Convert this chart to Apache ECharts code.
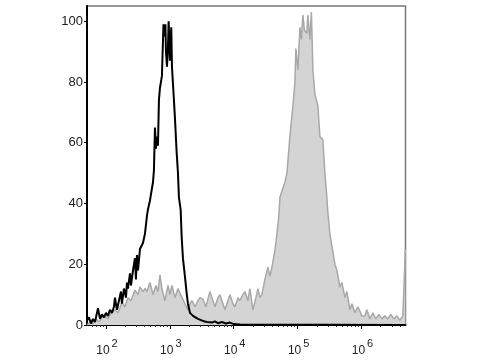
<!DOCTYPE html>
<html>
<head>
<meta charset="utf-8">
<script src="https://cdn.jsdelivr.net/npm/echarts@6/dist/echarts.min.js"></script>
<style>html,body{margin:0;padding:0;background:#fff}#c{width:480px;height:360px}</style>
</head>
<body>
<div id="c"></div>
<script>
// x values are log10 of fluorescence intensity (decades)
const xMajorTicks = [2, 3, 4, 5, 6];
const yTicks = [0, 20, 40, 60, 80, 100];

// Control (black line): [log10 intensity, % of max]
const controlX = [1.703,1.734,1.765,1.797,1.828,1.859,1.875,1.906,1.937,1.969,2.000,2.031,2.063,2.094,2.125,2.141,2.172,2.203,2.235,2.250,2.282,2.313,2.329,2.344,2.376,2.391,2.423,2.454,2.469,2.485,2.501,2.532,2.579,2.610,2.642,2.657,2.689,2.720,2.736,2.751,2.767,2.782,2.798,2.814,2.829,2.845,2.876,2.900,2.915,2.931,2.939,2.955,2.970,2.981,3.002,3.022,3.033,3.053,3.080,3.106,3.127,3.142,3.169,3.185,3.205,3.236,3.263,3.283,3.315,3.362,3.393,3.440,3.471,3.534,3.581,3.659,3.706,3.753,3.815,3.878,3.941,4.003,4.097,6.687];
const controlY = [1.5,2.5,0.5,2,1,4,5.5,2,3.5,2.5,4,3,5,4,6,9,5,8,11,7,12,9,14,12,17,13,18,22,15,23,18,25,27,30,36,38,41,45,47,51,65,58,62,59,74,78,82,99,95,99,90,85,91,100,87,98,85,78,68,57,50,42,38,29,22,16,10.5,7,4,3,2.6,2,1.6,1.2,1,0.8,1.2,0.6,1,0.5,0.8,0.3,0.2,0];

// Stained sample (grey filled)
const sampleX = [1.703,1.750,1.797,1.844,1.890,1.937,1.984,2.031,2.078,2.141,2.188,2.250,2.297,2.344,2.391,2.454,2.501,2.532,2.579,2.610,2.642,2.689,2.736,2.782,2.814,2.845,2.876,2.923,2.970,3.002,3.033,3.080,3.127,3.158,3.189,3.236,3.283,3.315,3.346,3.393,3.440,3.471,3.518,3.565,3.627,3.674,3.706,3.753,3.784,3.831,3.862,3.909,3.940,3.987,4.019,4.066,4.097,4.144,4.175,4.222,4.253,4.300,4.347,4.379,4.410,4.441,4.488,4.535,4.566,4.598,4.645,4.676,4.707,4.723,4.770,4.801,4.833,4.879,4.926,4.958,4.973,5.005,5.036,5.059,5.083,5.106,5.130,5.145,5.161,5.192,5.216,5.239,5.271,5.318,5.349,5.396,5.427,5.458,5.474,5.505,5.537,5.584,5.615,5.662,5.693,5.740,5.771,5.818,5.850,5.897,5.944,5.975,6.006,6.053,6.084,6.131,6.178,6.225,6.272,6.319,6.366,6.413,6.460,6.507,6.554,6.601,6.648,6.687];
const sampleY = [0,1,0.5,2,1,2.5,3,2,4,5,4,7.5,6,9,8,11.5,10,12.5,11,12,11,14,10,13,11,16.5,12,8,13,10,13,9,12,10.5,10,7,5,7,8,6,8,9,8.5,6,11,8,6,9,10,7,5,8,10,7,6,9,8,10,11,8,12,5,9,12,9,10,15,19,16,19,24.6,30,36,42,45,47,50,62,72,80,91,84,98,94,102,97,97,96,102,94,103,84,76,72,62,61,50,42,37,30,26,20,18,12.5,14,9,11,5,7,4,6,6,3,3,5,2,4,2,3.5,2,3,2,3.5,2,3,1.5,3,25];

const minorTicks = [];
for (let n = 1; n <= 6; n++) for (let k = 2; k <= 9; k++) {
  const v = n + Math.log10(k);
  if (v > 1.703 && v < 6.689) minorTicks.push(v);
}

const zip = (xs, ys) => xs.map((x, i) => [x, ys[i]]);
const FONT = 'Liberation Sans, Arial, sans-serif';

const chart = echarts.init(document.getElementById('c'), null, {renderer: 'canvas'});
chart.setOption({
  animation: false,
  backgroundColor: '#fff',
  grid: {left: 87, right: 74.5, top: 6, bottom: 35, show: true, borderColor: '#777', borderWidth: 1.5, backgroundColor: 'transparent'},
  xAxis: [{
    type: 'value', min: 1.703, max: 6.689,
    axisLine: {show: true, lineStyle: {color: '#000', width: 2}},
    splitLine: {show: false},
    axisTick: {show: true, customValues: xMajorTicks, length: 4, lineStyle: {color: '#000', width: 1}},
    axisLabel: {
      customValues: xMajorTicks, margin: 13,
      formatter: v => '{b|10}{s|' + v + '}',
      rich: {
        b: {fontSize: 12, color: '#222', fontFamily: FONT, verticalAlign: 'bottom', lineHeight: 19, padding: [0, 0, 0, 2]},
        s: {fontSize: 11, color: '#222', fontFamily: FONT, verticalAlign: 'top', lineHeight: 19, padding: [0, 0, 0, 2]}
      }
    }
  }, {
    type: 'value', min: 1.703, max: 6.689, position: 'bottom',
    axisLine: {show: false}, splitLine: {show: false},
    axisTick: {show: true, customValues: minorTicks, length: 2, lineStyle: {color: '#333', width: 1}},
    axisLabel: {show: false}
  }],
  yAxis: {
    type: 'value', min: 0, max: 105,
    axisLine: {show: true, lineStyle: {color: '#000', width: 2}},
    splitLine: {show: false},
    axisTick: {show: true, customValues: yTicks, length: 3, lineStyle: {color: '#000', width: 1}},
    axisLabel: {customValues: yTicks, margin: 4, fontSize: 13, color: '#222', fontFamily: FONT}
  },
  series: [{
    type: 'line', data: zip(sampleX, sampleY), showSymbol: false, z: 2,
    lineStyle: {color: '#a8a8a8', width: 1.5},
    areaStyle: {color: '#d4d4d4', opacity: 1}
  }, {
    type: 'line', data: zip(controlX, controlY), showSymbol: false, z: 3,
    lineStyle: {color: '#000', width: 2}
  }]
});
</script>
</body>
</html>
